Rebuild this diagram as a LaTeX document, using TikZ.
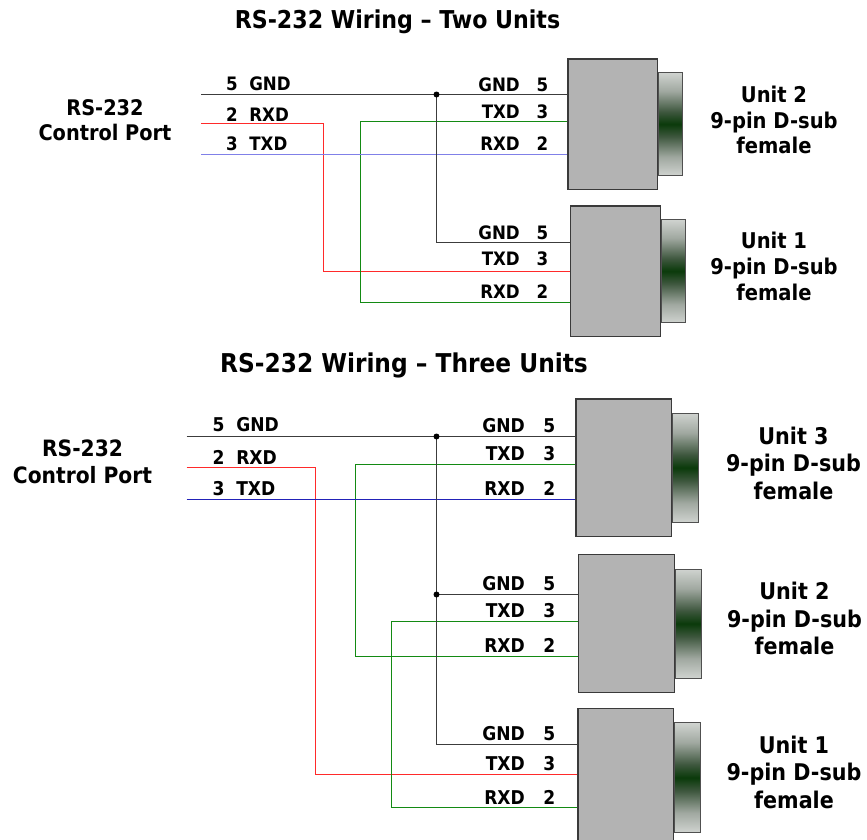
\documentclass[tikz,border=0pt]{standalone}
\usepackage{fontspec}
\setmainfont{DejaVu Sans Condensed}
\usepackage{tikz}
\usetikzlibrary{positioning}
\definecolor{boxgray}{HTML}{B3B3B3}
\definecolor{boxline}{HTML}{3A3A3A}
\definecolor{plugline}{HTML}{505050}
\definecolor{plugdark}{HTML}{0A3A0A}
\definecolor{plugmid}{HTML}{3E573E}
\definecolor{pluglight}{HTML}{A0A8A0}
\definecolor{gndgray}{HTML}{3C3C3C}
\definecolor{rxred}{HTML}{FF2A2A}
\definecolor{txgreen}{HTML}{138A13}
\definecolor{txblue}{HTML}{8080E8}
\definecolor{txnavy}{HTML}{2222B8}
\pgfdeclareverticalshading{plugshade}{100bp}{color(0bp)=(white); color(18bp)=(white!96!black); color(34bp)=(pluglight); color(44bp)=(plugmid); color(50bp)=(plugdark); color(56bp)=(plugmid); color(66bp)=(pluglight); color(82bp)=(white!96!black); color(100bp)=(white)}

\begin{document}
\begin{tikzpicture}[x=1pt,y=-1pt,
	conn/.style={draw=boxline, fill=boxgray, line width=1.3pt, inner sep=0pt, anchor=north west},
	plug/.style={draw=plugline, line width=1pt, inner sep=0pt, shading=plugshade},
	wire/.style={line width=1.35pt},
	gnd/.style={wire, draw=gndgray},
	rx/.style={wire, draw=rxred},
	tx/.style={wire, draw=txgreen},
	pinlbl/.style={font=\fontsize{18.5}{20}\selectfont\bfseries, inner sep=0pt},
	unitlbl/.style={font=\fontsize{21.7}{25.7}\selectfont\bfseries, align=center, inner sep=0pt},
	unitlblb/.style={font=\fontsize{23}{27.5}\selectfont\bfseries, align=center, inner sep=0pt},
	titlelbl/.style={font=\fontsize{24.6}{26}\selectfont\bfseries, inner sep=0pt, anchor=base}]
			\useasboundingbox (0,0) rectangle (867,839);
			\clip (0,0) rectangle (867,839);

			% two units
			\node[titlelbl] (titlea) at (397.5,28.3) {RS-232 Wiring -- Two Units};
			\node[unitlbl, font=\fontsize{21.5}{25}\selectfont\bfseries] (porta) at (105,119.7) {RS-232\\Control Port};

			\coordinate (pa-5) at (201,94.5);
			\coordinate (pa-2) at (201,123.5);
			\coordinate (pa-3) at (201,154.5);
			\coordinate (a2-5) at (567.3,94.5);
			\coordinate (a2-3) at (567.3,121.5);
			\coordinate (a2-2) at (567.3,154.5);
			\coordinate (a1-5) at (570,242.5);
			\coordinate (a1-3) at (570,271.5);
			\coordinate (a1-2) at (570,302.5);
			\coordinate (ja) at (436.5,94.5);

			\draw[rx] (pa-2) -- ++(122.5,0) |- (a1-3);
			\draw[tx] (a2-3) -- ++(-206.8,0) |- (a1-2);
			\draw[wire, draw=txblue] (pa-3) -- (a2-2);
			\draw[gnd] (pa-5) -- (a2-5);
			\draw[gnd] (ja) |- (a1-5);
			\fill (ja) circle[radius=3pt];

			\foreach \u/\x/\y/\w/\h/\pw/\ph in {a2/567.3/58.3/89.4/130.4/24.3/103, a1/570/205.3/89.7/130.4/24/103.3}{
				\node[conn, minimum width=\w, minimum height=\h] (\u) at (\x,\y) {};
				\node[plug, minimum width=\pw, minimum height=\ph, right=0pt of \u] (\u p) {};
			}

			\foreach \n/\t/\y in {la5/5~~GND/90, la2/2~~RXD/121, la3/3~~TXD/150}
				\node[pinlbl, anchor=base west] (\n) at (226,\y) {\t};
			\foreach \n/\t/\y in {ra25/GND/91.7, ra23/TXD/118, ra22/RXD/150, ra15/GND/239, ra13/TXD/265.7, ra12/RXD/298}
				\node[pinlbl, anchor=base east] (\n) at (520,\y) {\t};
			\foreach \n/\t/\y in {na25/5/91.7, na23/3/118, na22/2/150, na15/5/239, na13/3/265.7, na12/2/298}
				\node[pinlbl, anchor=base east] (\n) at (548.5,\y) {\t};

			\node[unitlbl] (a2t) at (774,120.1) {Unit 2\\9-pin D-sub\\female};
			\node[unitlbl] (a1t) at (774,266.6) {Unit 1\\9-pin D-sub\\female};

			% three units
			\node[titlelbl, font=\fontsize{25.9}{27}\selectfont\bfseries] (titleb) at (404,372.5) {RS-232 Wiring -- Three Units};
			\node[unitlblb, font=\fontsize{22.5}{27.3}\selectfont\bfseries] (portb) at (82.5,462) {RS-232\\Control Port};

			\coordinate (pb-5) at (186.5,436.5);
			\coordinate (pb-2) at (186.5,467.5);
			\coordinate (pb-3) at (186.5,499.5);
			\coordinate (b3-5) at (575.3,436.5);
			\coordinate (b3-3) at (575.3,464.5);
			\coordinate (b3-2) at (575.3,499.5);
			\coordinate (b2-5) at (578,594.5);
			\coordinate (b2-3) at (578,621.5);
			\coordinate (b2-2) at (578,656.5);
			\coordinate (b1-5) at (577.3,744.5);
			\coordinate (b1-3) at (577.3,774.5);
			\coordinate (b1-2) at (577.3,807.5);
			\coordinate (jb) at (436.5,436.5);
			\coordinate (jb2) at (jb |- b2-5);

			\draw[rx] (pb-2) -- ++(129,0) |- (b1-3);
			\draw[tx] (b3-3) -- ++(-219.8,0) |- (b2-2);
			\draw[tx] (b2-3) -- ++(-186.5,0) |- (b1-2);
			\draw[wire, draw=txnavy] (pb-3) -- (b3-2);
			\draw[gnd] (pb-5) -- (b3-5);
			\draw[gnd] (jb) |- (b1-5);
			\draw[gnd] (jb2) -- (b2-5);
			\fill (jb) circle[radius=3pt];
			\fill (jb2) circle[radius=3pt];

			\foreach \u/\x/\y/\w/\h/\pw/\ph in {b3/575.3/398.3/95.4/137.7/26/109.3, b2/578/554/95.7/138/25.6/109, b1/577.3/707.7/95.4/138.6/26/109.4}{
				\node[conn, minimum width=\w, minimum height=\h] (\u) at (\x,\y) {};
				\node[plug, minimum width=\pw, minimum height=\ph, right=0pt of \u] (\u p) {};
			}

			\foreach \n/\t/\y in {lb5/5~~GND/431.7, lb2/2~~RXD/464.3, lb3/3~~TXD/495}
				\node[pinlbl, font=\fontsize{19}{20}\selectfont\bfseries, anchor=base west] (\n) at (212.3,\y) {\t};
			\foreach \n/\t/\y in {rb35/GND/432.3, rb33/TXD/460.7, rb32/RXD/495, rb25/GND/590, rb23/TXD/617.7, rb22/RXD/652.3, rb15/GND/740.7, rb13/TXD/770, rb12/RXD/804}
				\node[pinlbl, font=\fontsize{19}{20}\selectfont\bfseries, anchor=base east] (\n) at (525,\y) {\t};
			\foreach \n/\t/\y in {nb35/5/432.3, nb33/3/460.7, nb32/2/495, nb25/5/590, nb23/3/617.7, nb22/2/652.3, nb15/5/740.7, nb13/3/770, nb12/2/804}
				\node[pinlbl, font=\fontsize{19}{20}\selectfont\bfseries, anchor=base east] (\n) at (555.5,\y) {\t};

			\node[unitlblb] (b3t) at (793.5,463) {Unit 3\\9-pin D-sub\\female};
			\node[unitlblb] (b2t) at (794.5,618.7) {Unit 2\\9-pin D-sub\\female};
			\node[unitlblb] (b1t) at (794,772) {Unit 1\\9-pin D-sub\\female};
\end{tikzpicture}
\end{document}
